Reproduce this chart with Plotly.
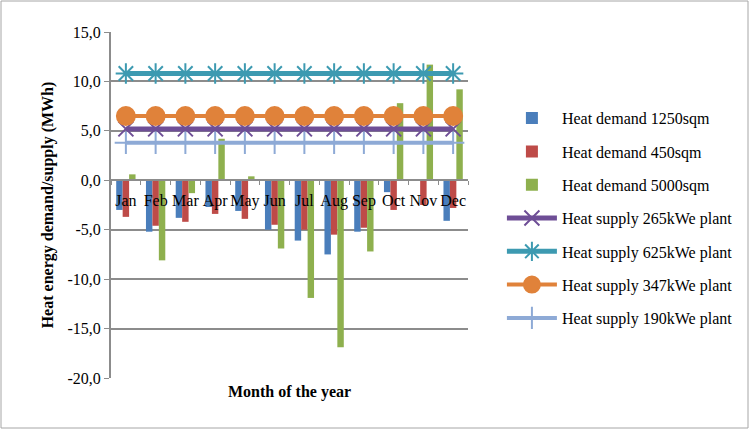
import plotly.graph_objects as go

months = ["Jan", "Feb", "Mar", "Apr", "May", "Jun", "Jul", "Aug", "Sep", "Oct", "Nov", "Dec"]
demand_1250 = [-3.0, -5.2, -3.8, -2.7, -3.1, -5.0, -6.1, -7.5, -5.2, -1.2, 0.0, -4.1]
demand_450 = [-3.7, -4.6, -4.2, -3.4, -3.9, -4.5, -5.0, -5.5, -4.8, -3.0, -2.5, -2.8]
demand_5000 = [0.6, -8.1, -1.3, 4.2, 0.4, -6.9, -11.9, -16.9, -7.2, 7.8, 11.7, 9.2]
supply_265 = [5.2] * 12
supply_625 = [10.8] * 12
supply_347 = [6.5] * 12
supply_190 = [3.8] * 12
y_ticks = [15, 10, 5, 0, -5, -10, -15, -20]
y_ticktext = ["15,0", "10,0", "5,0", "0,0", "-5,0", "-10,0", "-15,0", "-20,0"]

FONT = "Liberation Serif, Times New Roman, serif"
FS = 16

fig = go.Figure()
bar_specs = [
    ("Heat demand 1250sqm", demand_1250, "#4A7EBB"),
    ("Heat demand 450sqm", demand_450, "#BE4B48"),
    ("Heat demand 5000sqm", demand_5000, "#8EB04E"),
]
for i, (name, vals, col) in enumerate(bar_specs):
    fig.add_trace(go.Bar(x=months, y=vals, name=name, marker=dict(color=col, line=dict(width=0)),
                         legendgroup=str(i)))

line_specs = [
    ("Heat supply 265kWe plant", supply_265, "#6E4E96", "x-thin-open", 15, 5),
    ("Heat supply 625kWe plant", supply_625, "#3D9AB1", "asterisk-open", 17, 5),
    ("Heat supply 347kWe plant", supply_347, "#E0823A", "circle", 18, 4),
    ("Heat supply 190kWe plant", supply_190, "#8EAAD6", "cross-thin-open", 16, 4),
]
for j, (name, vals, col, sym, sz, lw) in enumerate(line_specs):
    fig.add_trace(go.Scatter(x=months, y=vals, name=name, mode="lines+markers",
                             line=dict(color=col, width=lw),
                             marker=dict(symbol=sym, size=sz, color=col,
                                         line=dict(color=col, width=2)),
                             legendgroup=str(10 + j)))

fig.update_layout(
    width=755, height=434,
    margin=dict(l=111, r=287, t=32, b=56, autoexpand=False),
    paper_bgcolor="white", plot_bgcolor="white",
    font=dict(family=FONT, size=FS, color="black"),
    separators=",.",
    barmode="group", bargap=0.35, bargroupgap=0,
    showlegend=True,
    legend=dict(x=1.095, y=0.80, xanchor="left", yanchor="top",
                font=dict(family=FONT, size=FS, color="black"),
                itemwidth=50,
                tracegroupgap=9.5, traceorder="grouped", bgcolor="rgba(0,0,0,0)"),
    xaxis=dict(type="category", anchor="free", position=20 / 35, range=[-0.5, 11.5],
               showline=True, linecolor="#8C8C8C", linewidth=2,
               ticks="outside", tickson="boundaries", ticklen=4, tickcolor="#8C8C8C",
               tickangle=0, ticklabelstandoff=6,
               showgrid=False, tickfont=dict(family=FONT, size=FS, color="black")),
    yaxis=dict(range=[-20, 15], tickvals=y_ticks, ticktext=y_ticktext,
               showgrid=True, gridcolor="#8C8C8C", gridwidth=1.5,
               zeroline=False, showline=True, linecolor="#8C8C8C", linewidth=2,
               ticks="outside", ticklen=5, tickcolor="#8C8C8C",
               tickfont=dict(family=FONT, size=FS, color="black"),
               title=dict(text="<b>Heat energy demand/supply (MWh)</b>", standoff=10,
                          font=dict(family=FONT, size=FS, color="black"))),
    annotations=[dict(text="<b>Month of the year</b>", xref="paper", yref="paper",
                      x=0.50, y=-0.04, xanchor="center", yanchor="middle", showarrow=False,
                      font=dict(family=FONT, size=FS, color="black"))],
    shapes=[dict(type="rect", xref="paper", yref="paper",
                 x0=(1 - 111) / 357, x1=(748 - 111) / 357,
                 y0=(378 - 428) / 346, y1=(378 - 1) / 346,
                 line=dict(color="#A6A6A6", width=1), fillcolor="rgba(0,0,0,0)", layer="below")],
)

fig.write_html("out.html", config={"displayModeBar": False},
               post_script="document.body.style.margin='0';")
